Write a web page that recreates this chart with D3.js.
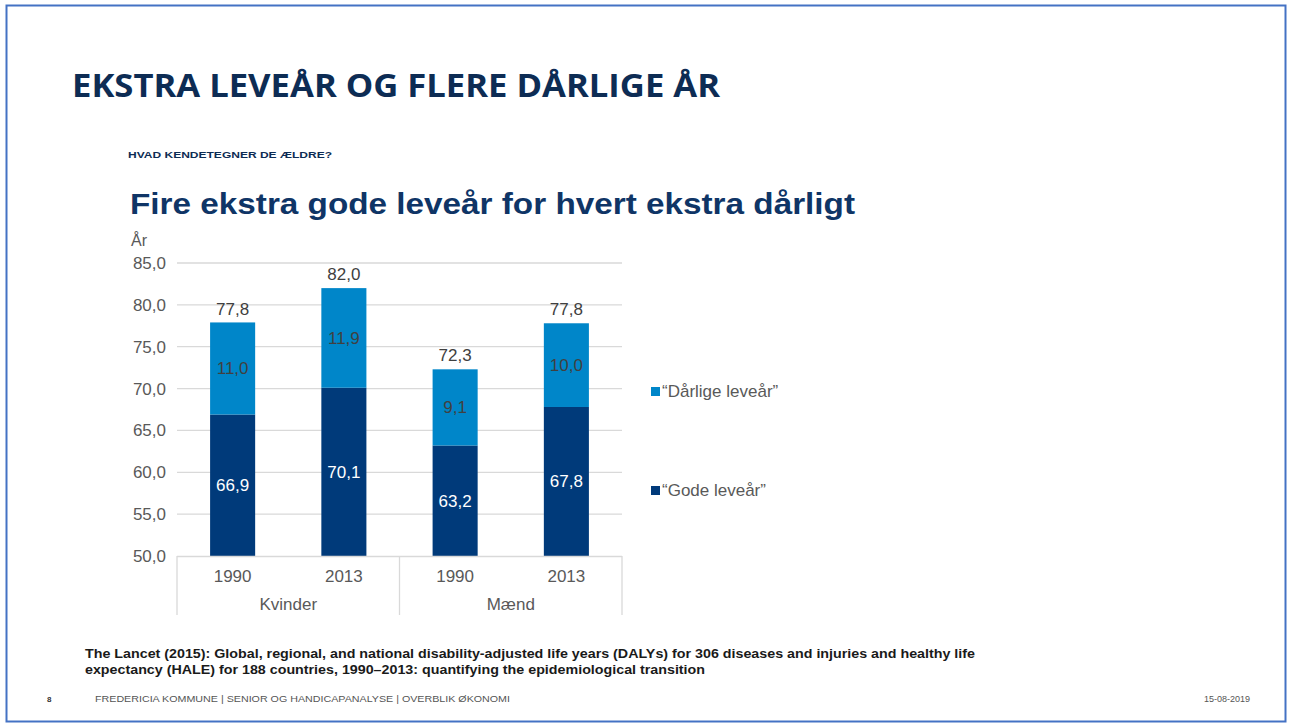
<!DOCTYPE html>
<html lang="da">
<head>
<meta charset="UTF-8">
<script src="https://d3js.org/d3.v7.min.js"></script>
<title>Ekstra leveår</title>
<style>
    body { margin: 0; background: #fff; }
</style>
</head>
<body>
<div id="container"></div>
<script>
    const width = 1289, height = 724;

    // data
    const groups = ["Kvinder", "Kvinder", "Mænd", "Mænd"];
    const years = ["1990", "2013", "1990", "2013"];
    const gode = [66.9, 70.1, 63.2, 67.8];
    const daarlige = [11.0, 11.9, 9.1, 10.0];
    const totals = [77.8, 82.0, 72.3, 77.8];
    const yTicks = [50, 55, 60, 65, 70, 75, 80, 85];
    const seriesNames = ["\u201cDårlige leveår\u201d", "\u201cGode leveår\u201d"];

    const darkBlue = "#003a7a", lightBlue = "#0086c9", navy = "#0d2c54";
    const fmt = d3.formatLocale({ decimal: ",", thousands: ".", grouping: [3], currency: ["", " kr."] }).format(".1f");

    const svg = d3.select("#container")
        .append("svg")
        .attr("width", width)
        .attr("height", height)
        .style("font-family", "'Liberation Sans', Arial, sans-serif");

    // slide frame
    svg.append("rect")
        .attr("x", 6.5).attr("y", 5.5)
        .attr("width", 1279).attr("height", 716)
        .attr("fill", "none")
        .attr("stroke", "#4472c4")
        .attr("stroke-width", 2);

    svg.append("text")
        .attr("x", 72).attr("y", 97)
        .attr("font-family", "'Open Sans', sans-serif")
        .attr("font-weight", "bold")
        .attr("font-size", 33)
        .attr("fill", navy)
        .attr("textLength", 648)
        .attr("lengthAdjust", "spacingAndGlyphs")
        .text("EKSTRA LEVEÅR OG FLERE DÅRLIGE ÅR");

    svg.append("text")
        .attr("x", 128).attr("y", 158)
        .attr("font-weight", "bold")
        .attr("font-size", 9)
        .attr("fill", navy)
        .attr("textLength", 204)
        .attr("lengthAdjust", "spacingAndGlyphs")
        .text("HVAD KENDETEGNER DE ÆLDRE?");

    svg.append("text")
        .attr("x", 130).attr("y", 214)
        .attr("font-weight", "bold")
        .attr("font-size", 29)
        .attr("fill", "#0f3566")
        .attr("textLength", 725)
        .attr("lengthAdjust", "spacingAndGlyphs")
        .text("Fire ekstra gode leveår for hvert ekstra dårligt");

    // chart
    const x = d3.scaleBand()
        .domain(d3.range(gode.length))
        .range([177, 622])
        .paddingInner(0.595)
        .paddingOuter(0.2975);
    const y = d3.scaleLinear()
        .domain([50, 85])
        .range([556, 263]);

    svg.append("g")
        .selectAll("line")
        .data(yTicks.slice(1))
        .enter()
        .append("line")
        .attr("x1", 177).attr("x2", 622)
        .attr("y1", d => y(d)).attr("y2", d => y(d))
        .attr("stroke", "#d9d9d9")
        .attr("stroke-width", 1.3);

    const yAxis = svg.append("g")
        .attr("transform", "translate(170,0)")
        .call(d3.axisLeft(y).tickValues(yTicks).tickFormat(fmt).tickSize(0).tickPadding(4));
    yAxis.select(".domain").remove();
    yAxis.selectAll("text")
        .attr("font-family", "'Liberation Sans', Arial, sans-serif")
        .attr("font-size", 17)
        .attr("fill", "#595959");

    svg.append("text")
        .attr("x", 131).attr("y", 246)
        .attr("font-size", 16)
        .attr("fill", "#595959")
        .text("År");

    // bars
    const bars = svg.append("g");
    bars.selectAll("rect.gode")
        .data(gode)
        .enter()
        .append("rect")
        .attr("class", "gode")
        .attr("x", (d, i) => x(i))
        .attr("width", x.bandwidth())
        .attr("y", d => y(d))
        .attr("height", d => y(50) - y(d))
        .attr("fill", darkBlue);
    bars.selectAll("rect.daarlige")
        .data(daarlige)
        .enter()
        .append("rect")
        .attr("class", "daarlige")
        .attr("x", (d, i) => x(i))
        .attr("width", x.bandwidth())
        .attr("y", (d, i) => y(gode[i] + d))
        .attr("height", (d, i) => y(gode[i]) - y(gode[i] + d))
        .attr("fill", lightBlue);

    const labels = svg.append("g")
        .attr("text-anchor", "middle")
        .attr("font-size", 17);
    labels.selectAll("text.gode")
        .data(gode)
        .enter()
        .append("text")
        .attr("x", (d, i) => x(i) + x.bandwidth() / 2)
        .attr("y", d => y((50 + d) / 2) + 6)
        .attr("fill", "#fff")
        .text(d => fmt(d));
    labels.selectAll("text.daarlige")
        .data(daarlige)
        .enter()
        .append("text")
        .attr("x", (d, i) => x(i) + x.bandwidth() / 2)
        .attr("y", (d, i) => y(gode[i] + d / 2) + 6)
        .attr("fill", "#404040")
        .text(d => fmt(d));
    labels.selectAll("text.total")
        .data(totals)
        .enter()
        .append("text")
        .attr("x", (d, i) => x(i) + x.bandwidth() / 2)
        .attr("y", d => y(d) - 8)
        .attr("fill", "#404040")
        .text(d => fmt(d));

    // category axis, two levels
    const axis = svg.append("g");
    axis.append("line")
        .attr("x1", 177).attr("x2", 622)
        .attr("y1", 556.5).attr("y2", 556.5)
        .attr("stroke", "#d9d9d9").attr("stroke-width", 1.3);
    const groupNames = Array.from(new Set(groups));
    const bounds = [177].concat(groupNames.map(g => {
        const last = groups.lastIndexOf(g);
        return last === groups.length - 1 ? 622 : (x(last) + x.bandwidth() + x(last + 1)) / 2;
    }));
    axis.selectAll("line.sep")
        .data(bounds)
        .enter()
        .append("line")
        .attr("class", "sep")
        .attr("x1", d => d).attr("x2", d => d)
        .attr("y1", 556).attr("y2", 615)
        .attr("stroke", "#d9d9d9").attr("stroke-width", 1.3);
    axis.selectAll("text.year")
        .data(years)
        .enter()
        .append("text")
        .attr("x", (d, i) => x(i) + x.bandwidth() / 2)
        .attr("y", 582)
        .attr("text-anchor", "middle")
        .attr("font-size", 17)
        .attr("fill", "#595959")
        .text(d => d);
    axis.selectAll("text.group")
        .data(groupNames)
        .enter()
        .append("text")
        .attr("x", (d, i) => (bounds[i] + bounds[i + 1]) / 2)
        .attr("y", 610)
        .attr("text-anchor", "middle")
        .attr("font-size", 17)
        .attr("fill", "#595959")
        .text(d => d);

    // legend
    const legend = svg.append("g")
        .selectAll("g")
        .data(seriesNames)
        .enter()
        .append("g")
        .attr("transform", (d, i) => `translate(651,${391 + i * 99})`);
    legend.append("rect")
        .attr("x", 0).attr("y", -4)
        .attr("width", 9).attr("height", 9)
        .attr("fill", (d, i) => i === 0 ? lightBlue : darkBlue);
    legend.append("text")
        .attr("x", 11).attr("y", 6)
        .attr("font-size", 17)
        .attr("fill", "#595959")
        .text(d => d);

    // source and footer
    const source = svg.append("text")
        .attr("font-weight", "bold")
        .attr("font-size", 13)
        .attr("fill", "#1a1a1a")
        .attr("lengthAdjust", "spacingAndGlyphs");
    source.append("tspan").attr("x", 85).attr("y", 658)
        .attr("textLength", 890)
        .attr("lengthAdjust", "spacingAndGlyphs")
        .text("The Lancet (2015): Global, regional, and national disability-adjusted life years (DALYs) for 306 diseases and injuries and healthy life");
    source.append("tspan").attr("x", 85).attr("y", 674)
        .attr("textLength", 620)
        .attr("lengthAdjust", "spacingAndGlyphs")
        .text("expectancy (HALE) for 188 countries, 1990\u20132013: quantifying the epidemiological transition");

    svg.append("text")
        .attr("x", 47).attr("y", 702)
        .attr("font-size", 8).attr("font-weight", "bold")
        .attr("fill", "#333")
        .text("8");
    svg.append("text")
        .attr("x", 95).attr("y", 702)
        .attr("font-size", 9)
        .attr("fill", "#555")
        .attr("textLength", 415)
        .attr("lengthAdjust", "spacingAndGlyphs")
        .text("FREDERICIA KOMMUNE  |  SENIOR OG HANDICAPANALYSE  |  OVERBLIK ØKONOMI");
    svg.append("text")
        .attr("x", 1250).attr("y", 702)
        .attr("text-anchor", "end")
        .attr("font-size", 9)
        .attr("fill", "#555")
        .text("15-08-2019");
</script>
</body>
</html>
